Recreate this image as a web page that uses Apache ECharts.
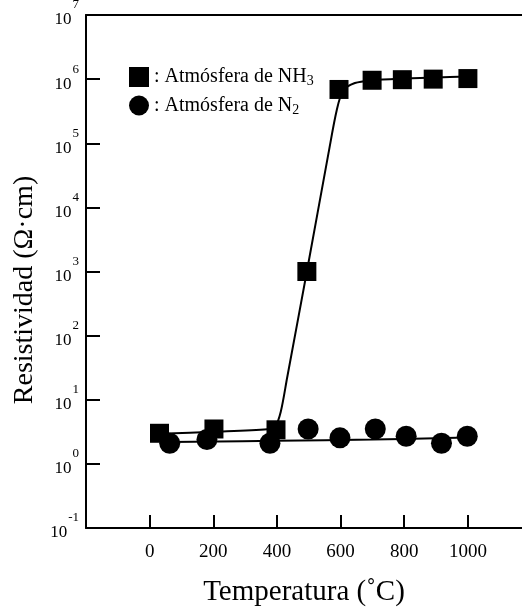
<!DOCTYPE html>
<html>
<head>
<meta charset="utf-8">
<script src="https://cdn.jsdelivr.net/npm/echarts@6/dist/echarts.min.js"></script>
<style>
  html, body { margin: 0; padding: 0; background: #fff; }
  #main { width: 522px; height: 609px; }
</style>
</head>
<body>
<div id="main"></div>
<script>
  // measured points (temperature in C, resistivity in ohm.cm)
  const tempNH3 = [31, 202, 397, 494, 595, 699, 794, 891, 1000];
  const resNH3 = [3.0, 3.5, 3.4, 1000, 6.9e5, 9.6e5, 9.8e5, 1.0e6, 1.02e6];

  const tempN2 = [63, 180, 378, 498, 598, 709, 806, 917, 998];
  const resN2 = [2.1, 2.4, 2.1, 3.5, 2.55, 3.5, 2.7, 2.1, 2.7];

  // fitted curves
  const fitTempNH3 = [31, 200, 370, 395, 412, 432, 494, 562, 588, 608, 645, 700, 800, 900, 1000];
  const fitResNH3 = [2.95, 3.16, 3.47, 3.9, 6.5, 22, 1000, 7e4, 3.3e5, 6.6e5, 8.7e5, 9.6e5, 1.02e6, 1.06e6, 1.1e6];

  const fitTempN2 = [63, 400, 700, 998];
  const fitResN2 = [2.19, 2.29, 2.4, 2.57];

  const xTicks = { min: -200, max: 1170, interval: 200 };
  const yRange = { min: 0.1, max: 1e7 };

  const serif = 'Liberation Serif';
  const nameNH3 = 'Atmósfera de NH3';
  const nameN2 = 'Atmósfera de N2';

  const zip = (xs, ys) => xs.map((x, i) => [x, ys[i]]);

  const chart = echarts.init(document.getElementById('main'));

  const option = {
    animation: false,
    backgroundColor: '#fff',
    grid: { left: 86, right: 0, top: 15, bottom: 81, outerBoundsMode: 'none' },
    legend: {
      orient: 'vertical',
      left: 129,
      top: 67,
      padding: 0,
      itemWidth: 20,
      itemHeight: 20,
      itemGap: 7,
      selectedMode: false,
      data: [
        { name: nameNH3, icon: 'rect' },
        { name: nameN2, icon: 'circle' }
      ],
      formatter: function (name) {
        if (name === nameNH3) return ': Atmósfera de NH{s|3}';
        return ': Atmósfera de N{s|2}';
      },
      textStyle: {
        fontFamily: serif,
        fontSize: 20,
        color: '#000',
        rich: {
          s: { fontFamily: serif, fontSize: 14, color: '#000', padding: [9, 0, 0, 0] }
        }
      }
    },
    xAxis: [{
      type: 'value',
      min: xTicks.min,
      max: xTicks.max,
      interval: xTicks.interval,
      name: 'Temperatura (˚C)',
      nameLocation: 'middle',
      nameGap: 50,
      nameTextStyle: { fontFamily: serif, fontSize: 29, color: '#000' },
      axisLine: { lineStyle: { color: '#000', width: 2 } },
      axisTick: { inside: true, length: 13, lineStyle: { color: '#000', width: 2 } },
      axisLabel: {
        showMinLabel: false,
        showMaxLabel: false,
        margin: 15,
        fontFamily: serif,
        fontSize: 19,
        color: '#000',
        formatter: function (v) { return String(v); }
      },
      splitLine: { show: false }
    }, {
      type: 'value',
      position: 'top',
      min: xTicks.min,
      max: xTicks.max,
      axisLine: { show: true, lineStyle: { color: '#000', width: 2 } },
      axisTick: { show: false },
      axisLabel: { show: false },
      splitLine: { show: false }
    }],
    yAxis: {
      type: 'log',
      logBase: 10,
      min: yRange.min,
      max: yRange.max,
      axisLine: { show: true, onZero: false, lineStyle: { color: '#000', width: 2 } },
      axisTick: { show: true, inside: true, length: 14, lineStyle: { color: '#000', width: 2 } },
      minorTick: { show: false },
      splitLine: { show: false },
      axisLabel: {
        margin: 7,
        formatter: function (v) {
          return '{b|10}{e|' + Math.round(Math.log10(v)) + '}';
        },
        rich: {
          b: { fontFamily: serif, fontSize: 17, color: '#000', padding: [10, 0, 0, 0] },
          e: { fontFamily: serif, fontSize: 13, color: '#000', padding: [0, 0, 20, 1] }
        }
      }
    },
    graphic: [{
      type: 'text',
      x: 25,
      y: 290,
      rotation: Math.PI / 2,
      style: {
        text: 'Resistividad (Ω·cm)',
        fontFamily: serif,
        fontSize: 28,
        fill: '#000',
        align: 'center',
        verticalAlign: 'middle'
      }
    }],
    series: [
      {
        name: 'fit NH3',
        type: 'line',
        data: zip(fitTempNH3, fitResNH3),
        smooth: 0.3,
        showSymbol: false,
        lineStyle: { color: '#000', width: 2 },
        z: 2
      },
      {
        name: 'fit N2',
        type: 'line',
        data: zip(fitTempN2, fitResN2),
        smooth: 0.4,
        showSymbol: false,
        lineStyle: { color: '#000', width: 2 },
        z: 2
      },
      {
        name: nameNH3,
        type: 'scatter',
        symbol: 'rect',
        symbolSize: 19,
        itemStyle: { color: '#000', opacity: 1 },
        data: zip(tempNH3, resNH3),
        z: 4
      },
      {
        name: nameN2,
        type: 'scatter',
        symbol: 'circle',
        symbolSize: 21,
        itemStyle: { color: '#000', opacity: 1 },
        data: zip(tempN2, resN2),
        z: 3
      }
    ]
  };

  chart.setOption(option);
</script>
</body>
</html>
